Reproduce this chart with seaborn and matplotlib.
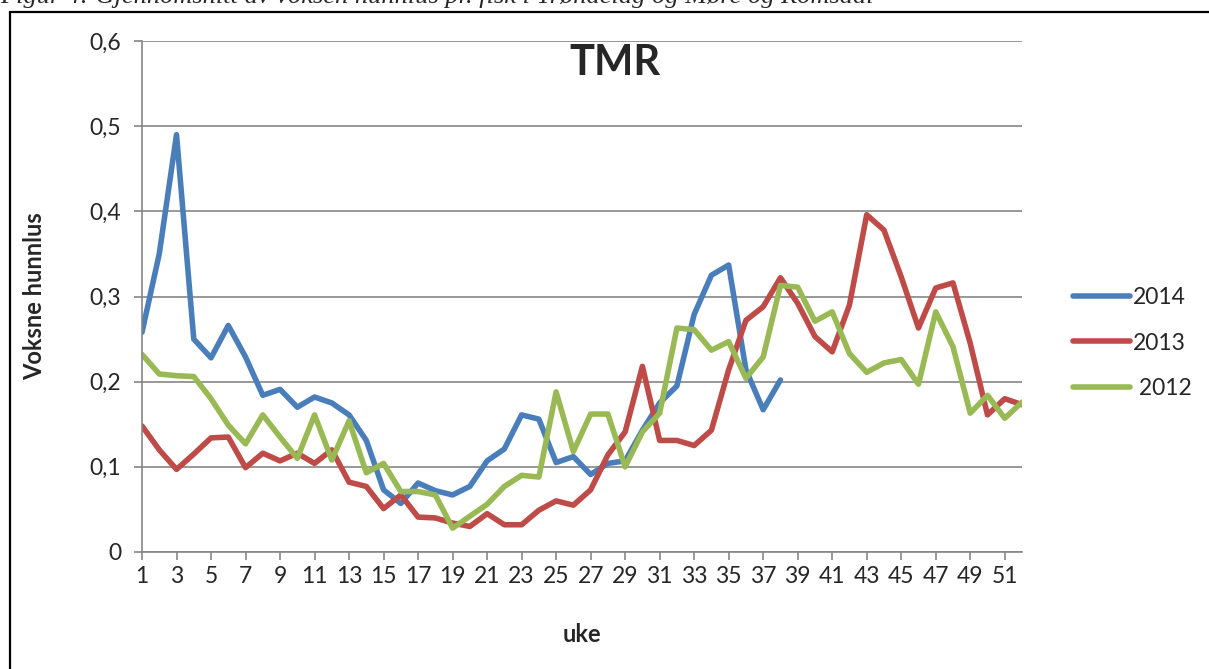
import numpy as np
import pandas as pd
import seaborn as sns
import matplotlib.pyplot as plt
from matplotlib.patches import Rectangle
from matplotlib.ticker import FuncFormatter

# Voksne hunnlus per fisk, TMR, uke 1-52
weeks = list(range(1, 53))
lus_2014 = [0.258, 0.350, 0.490, 0.250, 0.228, 0.266, 0.229, 0.184, 0.191, 0.170,
            0.182, 0.175, 0.161, 0.131, 0.073, 0.057, 0.081, 0.072, 0.067, 0.077,
            0.107, 0.121, 0.161, 0.156, 0.105, 0.112, 0.091, 0.104, 0.107, 0.143,
            0.175, 0.195, 0.279, 0.325, 0.337, 0.214, 0.167, 0.202]
lus_2013 = [0.148, 0.120, 0.097, 0.115, 0.134, 0.135, 0.099, 0.116, 0.107, 0.116,
            0.104, 0.120, 0.082, 0.077, 0.051, 0.067, 0.041, 0.040, 0.034, 0.030,
            0.045, 0.032, 0.032, 0.049, 0.060, 0.055, 0.073, 0.114, 0.141, 0.218,
            0.131, 0.131, 0.125, 0.143, 0.214, 0.272, 0.288, 0.322, 0.292, 0.253,
            0.235, 0.290, 0.396, 0.378, 0.323, 0.263, 0.310, 0.316, 0.245, 0.161,
            0.180, 0.173]
lus_2012 = [0.232, 0.209, 0.207, 0.206, 0.180, 0.149, 0.127, 0.161, 0.135, 0.110,
            0.161, 0.108, 0.154, 0.093, 0.104, 0.071, 0.071, 0.067, 0.028, 0.042,
            0.056, 0.077, 0.090, 0.088, 0.188, 0.118, 0.162, 0.162, 0.100, 0.141,
            0.163, 0.263, 0.261, 0.237, 0.247, 0.204, 0.229, 0.313, 0.311, 0.271,
            0.282, 0.233, 0.211, 0.222, 0.226, 0.197, 0.282, 0.241, 0.163, 0.184,
            0.157, 0.176]

series = {"2014": lus_2014, "2013": lus_2013, " 2012": lus_2012}
colors = {"2014": "#4A7EBB", "2013": "#BE4B48", " 2012": "#98B954"}

df = pd.concat([pd.DataFrame({"uke": weeks[:len(v)], "lus": v, "år": k})
                for k, v in series.items()], ignore_index=True)

sns.set_style("white")
plt.rcParams["font.family"] = ["Lato", "DejaVu Sans"]

W, H = 1209, 669
fig = plt.figure(figsize=(W / 100, H / 100), dpi=100)
ax = fig.add_axes([142 / W, 1 - 552 / H, 880 / W, 511 / H])

sns.lineplot(data=df, x="uke", y="lus", hue="år", palette=colors,
             linewidth=4, ax=ax, solid_joinstyle="round", solid_capstyle="round")

grey = "#868686"
ax.set_xlim(1, 52)
ax.set_ylim(0, 0.6)
ax.set_xticks(range(1, 53, 2))
ax.set_yticks(np.arange(0, 0.61, 0.1))
ax.yaxis.set_major_formatter(FuncFormatter(lambda v, p: f"{v:.1f}".replace(".", ",") if v > 0.01 else "0"))
ax.grid(axis="y", color=grey, linewidth=1.2)
ax.set_axisbelow(True)
for s in ["top", "right"]:
    ax.spines[s].set_visible(False)
for s in ["left", "bottom"]:
    ax.spines[s].set_color(grey)
    ax.spines[s].set_linewidth(1.2)
ax.tick_params(axis="both", direction="out", length=6, width=1.2, color=grey,
               labelsize=16.5, left=True, bottom=True)
ax.tick_params(axis="y", pad=9)
ax.tick_params(axis="x", pad=4)

ax.set_xlabel("uke", fontsize=17, fontweight="bold", labelpad=26)
ax.set_ylabel("Voksne hunnlus", fontsize=17, fontweight="bold", labelpad=31)
ax.text(615 / W, 1 - 63 / H, "TMR", transform=fig.transFigure, ha="center", va="center",
        fontsize=30, fontweight="bold")

sns.move_legend(ax, "center left", bbox_to_anchor=((1073 - 142) / 880, (552 - 343) / 511),
                frameon=False, title=None, fontsize=16.5, handlelength=2.5,
                handletextpad=0.1, labelspacing=1.05, borderpad=0, borderaxespad=0)

# outer chart frame and cut-off caption
fig.patches.append(Rectangle((10 / W, -0.1), 1.2, 1 - 12 / H + 0.1, transform=fig.transFigure,
                             fill=False, edgecolor="black", linewidth=1.6))
fig.text(0, 1 - 3 / H, "Figur 4: Gjennomsnitt av voksen hunnlus pr. fisk i Trøndelag og Møre og Romsdal",
         family="Liberation Serif", style="italic", fontsize=19, va="baseline", ha="left")

fig.savefig("out.png", dpi=100)
